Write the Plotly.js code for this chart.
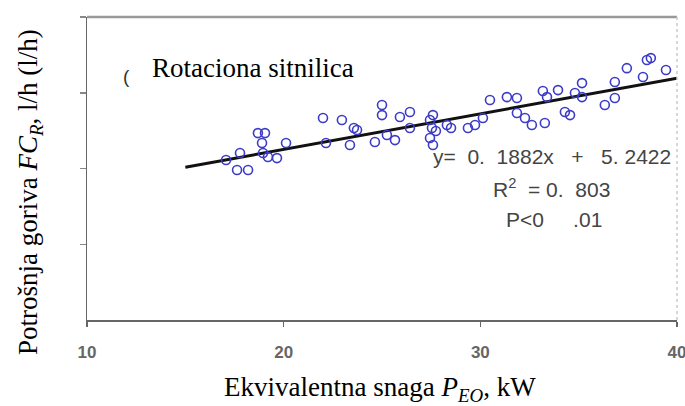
<!DOCTYPE html>
<html>
<head>
<meta charset="utf-8">
<script src="https://cdn.plot.ly/plotly-3.0.1.min.js"></script>
<style>
html,body{margin:0;padding:0;background:#fff;}
#chart{width:685px;height:406px;}
</style>
</head>
<body>
<div id="chart"></div>
<script>
const powerKW = [17.07,17.78,17.63,18.19,18.69,19.05,18.90,18.95,19.20,19.66,20.12,22.00,22.15,22.96,23.57,23.73,23.37,24.64,25.00,25.00,25.25,25.66,25.91,26.42,26.42,27.44,27.54,27.44,27.59,27.74,27.59,28.30,28.51,29.37,29.73,30.13,30.49,31.35,31.86,31.86,32.27,32.62,33.18,33.39,33.28,33.95,34.30,34.56,34.81,35.17,35.17,36.33,36.84,36.84,37.45,38.27,38.47,38.67,39.44];
const fuelLh  = [8.45,8.82,7.92,7.92,9.87,9.87,9.35,8.82,8.61,8.55,9.35,10.67,9.35,10.56,10.14,10.03,9.24,9.40,11.35,10.82,9.77,9.50,10.72,10.98,10.14,10.56,10.14,9.61,9.24,9.98,10.82,10.30,10.14,10.14,10.30,10.67,11.62,11.77,11.72,10.93,10.67,10.30,12.09,11.77,10.40,12.14,10.98,10.82,11.99,12.51,11.77,11.35,11.72,12.57,13.30,12.83,13.73,13.83,13.20];
const fitSlope = 0.1882;
const fitIntercept = 5.2422;
const fitRange = [15, 40];
const xTicks = [10, 20, 30, 40];
const yTicks = [4, 8, 12, 16];
const fitY = fitRange.map(x => fitSlope * x + fitIntercept);

const NB = '\u00a0';
const traces = [
  {x: fitRange, y: fitY, type: 'scatter', mode: 'lines',
   line: {color: '#111', width: 3}, hoverinfo: 'skip'},
  {x: powerKW, y: fuelLh, type: 'scatter', mode: 'markers',
   marker: {symbol: 'circle-open', size: 9, color: '#3c3cc8', line: {width: 1.6, color: '#3c3cc8'}}}
];

const serif = 'Liberation Serif';
const sans = 'Liberation Sans';

const layout = {
  width: 685, height: 406,
  margin: {l: 87, r: 8, t: 17, b: 86},
  paper_bgcolor: '#fff', plot_bgcolor: '#fff',
  showlegend: false,
  xaxis: {
    range: [10, 40], tickmode: 'array', tickvals: xTicks, ticktext: xTicks.map(String),
    showgrid: false, zeroline: false,
    showline: true, linecolor: '#666', linewidth: 1.5,
    ticks: 'outside', ticklen: 5, tickcolor: '#666', tickwidth: 1.5,
    tickfont: {family: sans, size: 17, color: '#666', weight: 'bold'},
    ticklabelstandoff: 11, ticklabeloverflow: 'allow'
  },
  yaxis: {
    range: [0, 16], tickmode: 'array', tickvals: yTicks, showticklabels: false,
    showgrid: false, zeroline: false,
    showline: true, linecolor: '#666', linewidth: 1.5,
    ticks: 'outside', ticklen: 6, tickcolor: '#888', tickwidth: 1.5
  },
  shapes: [
    {type: 'line', xref: 'paper', yref: 'paper', x0: 0, x1: 1, y0: 1, y1: 1,
     line: {color: '#999', width: 2.5}},
    {type: 'line', xref: 'paper', yref: 'paper', x0: 1, x1: 1, y0: 0, y1: 1,
     line: {color: '#ccc', width: 1.5, dash: 'dot'}}
  ],
  annotations: [
    {text: 'Rotaciona sitnilica', xref: 'paper', yref: 'paper', x: (150-87)/590, y: (320-68)/303,
     xanchor: 'left', yanchor: 'middle', showarrow: false,
     font: {family: serif, size: 27, color: '#000'}},
    {text: '(', xref: 'paper', yref: 'paper', x: (126-87)/590, y: (320-77)/303,
     xanchor: 'center', yanchor: 'middle', showarrow: false,
     font: {family: sans, size: 19, color: '#333'}},
    {text: 'y=' + NB + NB + '0.' + NB + NB + '1882x' + NB + NB + NB + '+' + NB + NB + NB + '5.' + NB + '2422',
     xref: 'paper', yref: 'paper', x: (673-87)/590, y: (320-156)/303,
     xanchor: 'right', yanchor: 'middle', showarrow: false,
     font: {family: sans, size: 21, color: '#444'}},
    {text: 'R<sup>2</sup>' + NB + NB + '=' + NB + '0.' + NB + NB + '803',
     xref: 'paper', yref: 'paper', x: (551-87)/590, y: (320-188)/303,
     xanchor: 'center', yanchor: 'middle', showarrow: false,
     font: {family: sans, size: 21, color: '#444'}},
    {text: 'P&lt;0' + NB + NB + NB + NB + NB + '.01',
     xref: 'paper', yref: 'paper', x: (554-87)/590, y: (320-219)/303,
     xanchor: 'center', yanchor: 'middle', showarrow: false,
     font: {family: sans, size: 21, color: '#444'}},
    {text: 'Potrošnja goriva <i>FC</i><sub><i>R</i></sub>, l/h (l/h)',
     xref: 'paper', yref: 'paper', x: (30-87)/590, y: (320-192)/303,
     xanchor: 'center', yanchor: 'middle', textangle: -90, showarrow: false,
     font: {family: serif, size: 27, color: '#000'}},
    {text: 'Ekvivalentna snaga <i>P</i><sub><i>EO</i></sub>, kW',
     xref: 'paper', yref: 'paper', x: (380-87)/590, y: (320-389)/303,
     xanchor: 'center', yanchor: 'middle', showarrow: false,
     font: {family: serif, size: 27, color: '#000'}}
  ]
};

Plotly.newPlot('chart', traces, layout, {displayModeBar: false, staticPlot: true});
</script>
</body>
</html>
